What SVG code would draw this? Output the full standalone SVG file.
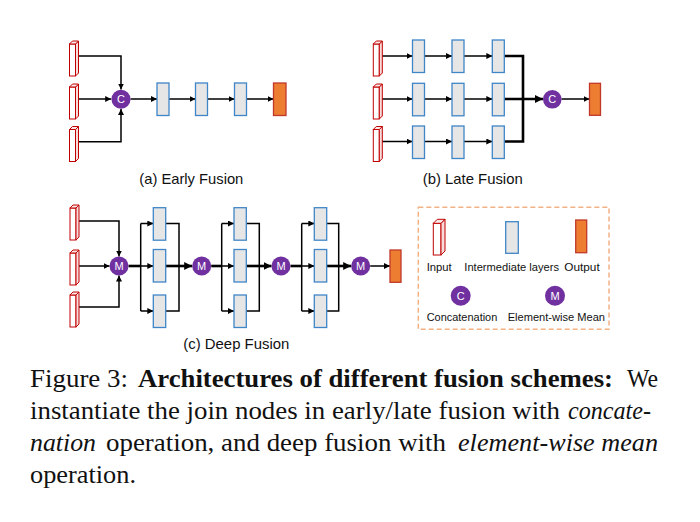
<svg xmlns="http://www.w3.org/2000/svg" width="700" height="522" viewBox="0 0 700 522">
<defs>
<marker id="arr" viewBox="0 0 10 10" refX="10" refY="5" markerWidth="6" markerHeight="6" markerUnits="userSpaceOnUse" orient="auto">
<path d="M0,0 L10,5 L0,10 z" fill="#000"/>
</marker>
<marker id="arrB" viewBox="0 0 10 10" refX="10" refY="5" markerWidth="8" markerHeight="8" markerUnits="userSpaceOnUse" orient="auto">
<path d="M0,0 L10,5 L0,10 z" fill="#000"/>
</marker>
<g id="inp">
<rect x="0" y="3" width="6" height="32" fill="#fff" stroke="#c00000" stroke-width="1"/>
<path d="M6,3 L9,0 L9,32 L6,35 z" fill="#f8dcdc" stroke="#c00000" stroke-width="1" stroke-linejoin="round"/>
<path d="M0,3 L3,0 L9,0 L6,3 z" fill="#fbe9e9" stroke="#c00000" stroke-width="1" stroke-linejoin="round"/>
</g>
</defs>
<style>
.ln{fill:none;stroke:#000;stroke-width:1.5}
.th{fill:none;stroke:#000;stroke-width:2.6}
.mid{fill:#e6e6e6;stroke:#3f86c8;stroke-width:1.3}
.out{fill:#ed7d31;stroke:#c0392b;stroke-width:1.3}
.op{fill:#7030a0}
.opt{fill:#fff;font-family:"Liberation Sans",Arial,sans-serif;font-size:11px;text-anchor:middle}
.lbl{font-family:"Liberation Sans",Arial,sans-serif;font-size:14.5px;fill:#111}
.lg{font-family:"Liberation Sans",Arial,sans-serif;font-size:11px;fill:#111}
.cap{font-family:"Liberation Serif","Times New Roman",serif;font-size:25px;fill:#111}
</style>
<rect width="700" height="522" fill="#fff"/>

<!-- connectors -->
<g id="connectors">
<!-- (a) -->
<path class="ln" d="M78,56 H121 V89.5" marker-end="url(#arr)"/>
<path class="ln" d="M78,99 H111.2" marker-end="url(#arr)"/>
<path class="ln" d="M78,141.7 H121 V109" marker-end="url(#arr)"/>
<path class="ln" d="M130.5,99 H157" marker-end="url(#arr)"/>
<path class="ln" d="M169,99 H195.5" marker-end="url(#arr)"/>
<path class="ln" d="M207.7,99 H234.5" marker-end="url(#arr)"/>
<path class="ln" d="M246.7,99 H273.5" marker-end="url(#arr)"/>
<!-- (b) -->
<path class="ln" d="M382,56 H412.5" marker-end="url(#arr)"/>
<path class="ln" d="M382,99 H412.5" marker-end="url(#arr)"/>
<path class="ln" d="M382,141.5 H412.5" marker-end="url(#arr)"/>
<path class="ln" d="M424.5,56 H452" marker-end="url(#arr)"/>
<path class="ln" d="M424.5,99 H452" marker-end="url(#arr)"/>
<path class="ln" d="M424.5,141.5 H452" marker-end="url(#arr)"/>
<path class="ln" d="M464,56 H492.3" marker-end="url(#arr)"/>
<path class="ln" d="M464,99 H492.3" marker-end="url(#arr)"/>
<path class="ln" d="M464,141.5 H492.3" marker-end="url(#arr)"/>
<path class="th" d="M504.3,56 H523 V141.5 H504.3"/>
<path class="th" d="M504.3,99 H543" marker-end="url(#arrB)"/>
<path class="ln" d="M561.5,99 H589.5" marker-end="url(#arr)"/>
<!-- (c) -->
<path class="ln" d="M79,221 H119 V256.5" marker-end="url(#arr)"/>
<path class="ln" d="M79,266 H109.5" marker-end="url(#arr)"/>
<path class="ln" d="M79,307 H119 V275.5" marker-end="url(#arr)"/>
<path class="th" d="M128.5,266 H140.7"/>
<path class="ln" d="M140.7,223.5 V311"/>
<path class="ln" d="M140.7,223.5 H153.3" marker-end="url(#arr)"/>
<path class="ln" d="M140.7,266 H153.3" marker-end="url(#arr)"/>
<path class="ln" d="M140.7,311 H153.3" marker-end="url(#arr)"/>
<path class="ln" d="M165.7,223.5 H179 V311 H165.7"/>
<path class="th" d="M165.7,266 H192.2" marker-end="url(#arrB)"/>
<path class="th" d="M211.2,266 H221.7"/>
<path class="ln" d="M221.7,223.5 V311"/>
<path class="ln" d="M221.7,223.5 H234" marker-end="url(#arr)"/>
<path class="ln" d="M221.7,266 H234" marker-end="url(#arr)"/>
<path class="ln" d="M221.7,311 H234" marker-end="url(#arr)"/>
<path class="ln" d="M246.3,223.5 H259.3 V311 H246.3"/>
<path class="th" d="M246.3,266 H271.5" marker-end="url(#arrB)"/>
<path class="th" d="M290.5,266 H301.7"/>
<path class="ln" d="M301.7,223.5 V311"/>
<path class="ln" d="M301.7,223.5 H314.3" marker-end="url(#arr)"/>
<path class="ln" d="M301.7,266 H314.3" marker-end="url(#arr)"/>
<path class="ln" d="M301.7,311 H314.3" marker-end="url(#arr)"/>
<path class="ln" d="M326.7,223.5 H338.7 V311 H326.7"/>
<path class="th" d="M326.7,266 H351.2" marker-end="url(#arrB)"/>
<path class="ln" d="M370.2,266 H390" marker-end="url(#arr)"/>
</g>

<!-- (a) Early Fusion nodes -->
<g id="a-in1"><use href="#inp" x="69.5" y="41"/></g>
<g id="a-in2"><use href="#inp" x="69.5" y="84"/></g>
<g id="a-in3"><use href="#inp" x="69.5" y="126.5"/></g>
<g id="a-c"><circle class="op" cx="121" cy="99.3" r="9.5"/><text class="opt" x="121" y="103.2">C</text></g>
<g id="a-l1"><rect class="mid" x="157" y="83" width="12" height="32.5"/></g>
<g id="a-l2"><rect class="mid" x="195.5" y="83" width="12" height="32.5"/></g>
<g id="a-l3"><rect class="mid" x="234.5" y="83" width="12" height="32.5"/></g>
<g id="a-out"><rect class="out" x="273.5" y="83" width="12.5" height="32.5"/></g>
<text class="lbl" x="139.3" y="184" textLength="104" lengthAdjust="spacingAndGlyphs">(a) Early Fusion</text>

<!-- (b) Late Fusion nodes -->
<g id="b-in1"><use href="#inp" x="373.3" y="41"/></g>
<g id="b-in2"><use href="#inp" x="373.3" y="84"/></g>
<g id="b-in3"><use href="#inp" x="373.3" y="126.5"/></g>
<g id="b-l11"><rect class="mid" x="412.5" y="40" width="12" height="32.5"/></g>
<g id="b-l12"><rect class="mid" x="452" y="40" width="12" height="32.5"/></g>
<g id="b-l13"><rect class="mid" x="492.3" y="40" width="12" height="32.5"/></g>
<g id="b-l21"><rect class="mid" x="412.5" y="83.3" width="12" height="32.5"/></g>
<g id="b-l22"><rect class="mid" x="452" y="83.3" width="12" height="32.5"/></g>
<g id="b-l23"><rect class="mid" x="492.3" y="83.3" width="12" height="32.5"/></g>
<g id="b-l31"><rect class="mid" x="412.5" y="126" width="12" height="32.5"/></g>
<g id="b-l32"><rect class="mid" x="452" y="126" width="12" height="32.5"/></g>
<g id="b-l33"><rect class="mid" x="492.3" y="126" width="12" height="32.5"/></g>
<g id="b-c"><circle class="op" cx="552.3" cy="99.3" r="9.3"/><text class="opt" x="552.3" y="103.2">C</text></g>
<g id="b-out"><rect class="out" x="589.5" y="83.3" width="11" height="32"/></g>
<text class="lbl" x="422.7" y="184" textLength="100" lengthAdjust="spacingAndGlyphs">(b) Late Fusion</text>

<!-- (c) Deep Fusion nodes -->
<g id="c-in1"><use href="#inp" x="70" y="205"/></g>
<g id="c-in2"><use href="#inp" x="70" y="250"/></g>
<g id="c-in3"><use href="#inp" x="70" y="292"/></g>
<g id="c-m1"><circle class="op" cx="119" cy="266" r="9.5"/><text class="opt" x="119" y="270">M</text></g>
<g id="c-l11"><rect class="mid" x="153.3" y="207.7" width="12.4" height="32.5"/></g>
<g id="c-l12"><rect class="mid" x="153.3" y="249.5" width="12.4" height="32.5"/></g>
<g id="c-l13"><rect class="mid" x="153.3" y="295" width="12.4" height="32.5"/></g>
<g id="c-m2"><circle class="op" cx="201.7" cy="266" r="9.5"/><text class="opt" x="201.7" y="270">M</text></g>
<g id="c-l21"><rect class="mid" x="234" y="207.7" width="12.3" height="32.5"/></g>
<g id="c-l22"><rect class="mid" x="234" y="249.5" width="12.3" height="32.5"/></g>
<g id="c-l23"><rect class="mid" x="234" y="295" width="12.3" height="32.5"/></g>
<g id="c-m3"><circle class="op" cx="281" cy="266" r="9.5"/><text class="opt" x="281" y="270">M</text></g>
<g id="c-l31"><rect class="mid" x="314.3" y="207.7" width="12.4" height="32.5"/></g>
<g id="c-l32"><rect class="mid" x="314.3" y="249.5" width="12.4" height="32.5"/></g>
<g id="c-l33"><rect class="mid" x="314.3" y="295" width="12.4" height="32.5"/></g>
<g id="c-m4"><circle class="op" cx="360.7" cy="266" r="9.5"/><text class="opt" x="360.7" y="270">M</text></g>
<g id="c-out"><rect class="out" x="390" y="250" width="11" height="32.3"/></g>
<text class="lbl" x="183.3" y="349" textLength="106" lengthAdjust="spacingAndGlyphs">(c) Deep Fusion</text>

<!-- legend -->
<g id="legend">
<rect x="418.3" y="207.3" width="190.7" height="122" fill="none" stroke="#f4b183" stroke-width="1.5" stroke-dasharray="5,3"/>
<g id="lg-in">
<rect x="433.3" y="223.3" width="7.7" height="31.7" fill="#fff" stroke="#c00000" stroke-width="1"/>
<path d="M441,223.3 L445,219.3 L445,251 L441,255 z" fill="#f8dcdc" stroke="#c00000" stroke-width="1" stroke-linejoin="round"/>
<path d="M433.3,223.3 L437.3,219.3 L445,219.3 L441,223.3 z" fill="#fbe9e9" stroke="#c00000" stroke-width="1" stroke-linejoin="round"/>
</g>
<g id="lg-mid"><rect class="mid" x="505.7" y="221.7" width="12.6" height="31.6"/></g>
<g id="lg-out"><rect class="out" x="575.7" y="220" width="11" height="32.7"/></g>
<text class="lg" x="426.7" y="270.7" textLength="25" lengthAdjust="spacingAndGlyphs">Input</text>
<text class="lg" x="464.3" y="270.7" textLength="94.7" lengthAdjust="spacingAndGlyphs">Intermediate layers</text>
<text class="lg" x="564.3" y="270.7" textLength="35.4" lengthAdjust="spacingAndGlyphs">Output</text>
<g id="lg-c"><circle class="op" cx="460.7" cy="295.7" r="10"/><text class="opt" x="460.7" y="299.7">C</text></g>
<g id="lg-m"><circle class="op" cx="555" cy="295.7" r="10"/><text class="opt" x="555" y="299.7">M</text></g>
<text class="lg" x="426.7" y="320.7" textLength="70.6" lengthAdjust="spacingAndGlyphs">Concatenation</text>
<text class="lg" x="507.7" y="320.7" textLength="97.3" lengthAdjust="spacingAndGlyphs">Element-wise Mean</text>
</g>

<!-- caption -->
<g id="caption" class="cap">
<text x="30" y="387.3" textLength="98" lengthAdjust="spacingAndGlyphs">Figure 3:</text>
<text x="138" y="387.3" font-weight="bold" textLength="475" lengthAdjust="spacingAndGlyphs">Architectures of different fusion schemes:</text>
<text x="627" y="387.3" textLength="31" lengthAdjust="spacingAndGlyphs">We</text>
<text x="30" y="419.3" textLength="530" lengthAdjust="spacingAndGlyphs">instantiate the join nodes in early/late fusion with</text>
<text x="568" y="419.3" font-style="italic" textLength="83" lengthAdjust="spacingAndGlyphs">concate-</text>
<text x="30" y="451" font-style="italic" textLength="66" lengthAdjust="spacingAndGlyphs">nation</text>
<text x="106" y="451" textLength="340" lengthAdjust="spacingAndGlyphs">operation, and deep fusion with</text>
<text x="458" y="451" font-style="italic" textLength="200" lengthAdjust="spacingAndGlyphs">element-wise mean</text>
<text x="30" y="483" textLength="106" lengthAdjust="spacingAndGlyphs">operation.</text>
</g>
</svg>
